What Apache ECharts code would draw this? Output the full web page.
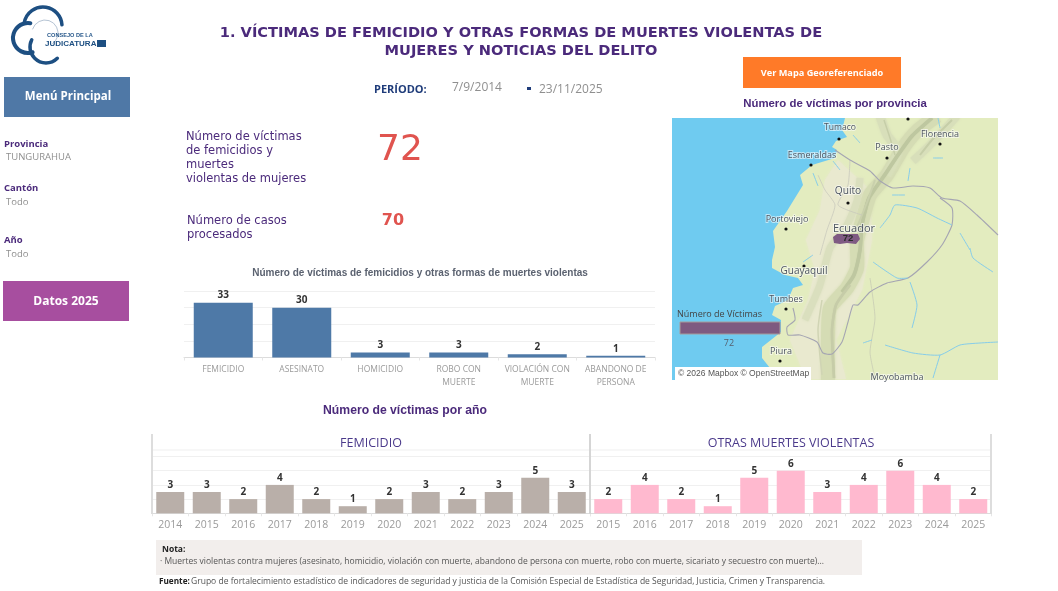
<!DOCTYPE html>
<html>
<head>
<meta charset="utf-8">
<title>Víctimas de femicidio</title>
<script src="https://cdn.jsdelivr.net/npm/echarts@6/dist/echarts.min.js"></script>
<style>
  html, body { margin: 0; padding: 0; background: #fff; }
  #main { width: 1058px; height: 591px; }
</style>
</head>
<body>
<div id="main"></div>
<script>
// datos
const tipo_names = ["FEMICIDIO", "ASESINATO", "HOMICIDIO", "ROBO CON\nMUERTE", "VIOLACIÓN CON\nMUERTE", "ABANDONO DE\nPERSONA"];
const tipo_values = [33, 30, 3, 3, 2, 1];
const femicidio_years = ["2014", "2015", "2016", "2017", "2018", "2019", "2020", "2021", "2022", "2023", "2024", "2025"];
const femicidio_values = [3, 3, 2, 4, 2, 1, 2, 3, 2, 3, 5, 3];
const otras_years = ["2015", "2016", "2017", "2018", "2019", "2020", "2021", "2022", "2023", "2024", "2025"];
const otras_values = [2, 4, 2, 1, 5, 6, 3, 4, 6, 4, 2];

const PURPLE = "#4b2a7b";
const GREY = "#8f8f8f";
const SANS = "'DejaVu Sans'";
const ARIAL = "'Liberation Sans'";
const BOOK = "'Open Sans'";

let graphics = [];
const txt = (text, x, y, font, fill, align, halo) => {
  graphics.push({
    type: "text",
    z: 20,
    x: x,
    y: y,
    style: {
      text: text,
      font: font,
      fill: fill,
      align: align || "left",
      verticalAlign: "middle",
      stroke: halo || null,
      lineWidth: halo ? 2 : 0,
    },
  });
};
const box = (x, y, w, h, fill, stroke, z) => {
  graphics.push({
    type: "rect",
    z: z || 10,
    shape: { x: x, y: y, width: w, height: h },
    style: { fill: fill, stroke: stroke || null, lineWidth: stroke ? 1 : 0 },
  });
};
const vline = (x, y1, y2, color) => {
  graphics.push({
    type: "line",
    z: 10,
    shape: { x1: x, y1: y1, x2: x, y2: y2 },
    style: { stroke: color, lineWidth: 2 },
  });
};

// cabecera
txt("1. VÍCTIMAS DE FEMICIDIO Y OTRAS FORMAS DE MUERTES VIOLENTAS DE", 521, 33, "bold 14.6px " + SANS, PURPLE, "center");
txt("MUJERES Y NOTICIAS DEL DELITO", 521, 51, "bold 14.6px " + SANS, PURPLE, "center");
txt("PERÍODO:", 374, 90, "bold 11px " + BOOK, "#1f3c7a");
txt("7/9/2014", 452, 88, "12px " + BOOK, GREY);
box(527, 87, 4, 3, "#1f3c7a");
txt("23/11/2025", 539, 90, "12px " + BOOK, GREY);

// menu lateral
box(4, 77, 126, 40, "#4f78a6");
txt("Menú Principal", 68, 97, "bold 11.5px " + BOOK, "#fff", "center");
txt("Provincia", 4, 144, "bold 9.5px " + BOOK, PURPLE);
txt("TUNGURAHUA", 6, 157, "9.5px " + BOOK, GREY);
txt("Cantón", 4, 188, "bold 9.5px " + BOOK, PURPLE);
txt("Todo", 6, 202, "9.5px " + BOOK, GREY);
txt("Año", 4, 240, "bold 9.5px " + BOOK, PURPLE);
txt("Todo", 6, 254, "9.5px " + BOOK, GREY);
box(3, 281, 126, 40, "#a74e9f");
txt("Datos 2025", 66, 302, "bold 12px " + BOOK, "#fff", "center");

// logo
const arcLogo = (cx, cy, r, a1, a2, w, color) => {
  graphics.push({
    type: "arc",
    z: 12,
    shape: { cx: cx, cy: cy, r: r, startAngle: a1, endAngle: a2 },
    style: { stroke: color || "#1d4f82", lineWidth: w, fill: null, lineCap: "round" },
  });
};
arcLogo(45, 33, 13, Math.PI * 1.1, Math.PI * 2.3, 1, "#b6c4d4");
arcLogo(43, 26, 19, Math.PI * 1.05, Math.PI * 1.98, 3.5);
arcLogo(28, 38, 15, Math.PI * 0.4, Math.PI * 1.55, 4);
arcLogo(46, 47, 16, Math.PI * 0.25, Math.PI * 1.15, 3.5);
txt("CONSEJO DE LA", 47, 35, "bold 5.6px " + ARIAL, "#2a5a8c");
txt("JUDICATURA", 45, 44, "bold 8px " + ARIAL, "#1d4f82");
box(97, 40, 9, 7, "#1d4f82");

// indicadores
["Número de víctimas", "de femicidios y", "muertes", "violentas de mujeres"].forEach((t, i) => {
  txt(t, 186, 137.5 + i * 14, "11.5px " + SANS, PURPLE);
});
txt("72", 400, 151, "36px " + SANS, "#e0544f", "center");
txt("Número de casos", 187, 221.5, "11.5px " + SANS, PURPLE);
txt("procesados", 187, 235.5, "11.5px " + SANS, PURPLE);
txt("70", 393, 221, "bold 16px " + SANS, "#e0544f", "center");

// titulos de graficos
txt("Número de víctimas de femicidios y otras formas de muertes violentas", 420, 273, "bold 10px " + ARIAL, "#5b6270", "center");
txt("Número de víctimas por año", 405, 411, "bold 12.2px " + ARIAL, PURPLE, "center");
txt("Número de víctimas por provincia", 835, 104, "bold 11.4px " + ARIAL, PURPLE, "center");
txt("FEMICIDIO", 371, 443, "12.5px " + BOOK, "#4b3a8b", "center");
txt("OTRAS MUERTES VIOLENTAS", 791, 443, "12.5px " + BOOK, "#4b3a8b", "center");
vline(152, 434, 514, "#dddddd");
vline(590, 434, 514, "#d5d5d5");
vline(991, 434, 514, "#dddddd");
graphics.push({
  type: "line",
  z: 5,
  shape: { x1: 152, y1: 450, x2: 991, y2: 450 },
  style: { stroke: "#efefef", lineWidth: 1 },
});

// boton naranja
box(743, 57, 158, 31, "#ff7a28");
txt("Ver Mapa Georeferenciado", 822, 73, "bold 9.2px " + BOOK, "#fff", "center");

// mapa de fondo (ilustrativo)
const poly = (pts, fill, blur, z) => {
  graphics.push({
    type: "polygon",
    z: z || 11,
    shape: { points: pts },
    style: { fill: fill, shadowBlur: blur || 0, shadowColor: fill },
  });
};
const pline = (pts, color, w, blur) => {
  graphics.push({
    type: "polyline",
    z: 12,
    shape: { points: pts, smooth: 0.2 },
    style: { stroke: color, lineWidth: w, fill: null, shadowBlur: blur || 0, shadowColor: color, lineCap: "butt", lineJoin: "round" },
  });
};
box(672, 118, 326, 262, "#6fcbf0");
poly([[845, 118], [842, 130], [847, 137], [836, 141], [832, 147], [837, 150], [835, 158], [812, 165], [800, 175], [803, 185], [787, 211], [773, 231], [775, 247], [772, 260], [772, 268], [785, 275], [798, 278], [803, 285], [793, 288], [788, 300], [775, 306], [772, 315], [781, 320], [781, 332], [762, 347], [762, 358], [770, 368], [775, 380], [998, 380], [998, 118]], "#e3ecbf");
poly([[838, 160], [870, 190], [872, 240], [862, 290], [836, 340], [846, 379], [806, 379], [790, 340], [808, 300], [815, 270], [806, 240], [820, 210], [825, 180]], "#e9e9cf", 3);
// cordilleras
pline([[937, 116], [917, 131], [903, 148], [887, 175], [870, 195], [863, 218], [857, 241], [857, 268], [847, 288], [830, 308], [828, 338], [828, 382]], "#d5dcb4", 14, 3);
pline([[880, 116], [887, 135], [898, 151], [887, 175]], "#d8dfba", 9, 3);
pline([[957, 116], [930, 145], [913, 161]], "#d8dfba", 8, 3);
pline([[860, 178], [857, 201], [847, 225], [830, 248], [820, 285], [805, 320]], "#dadfbe", 7, 3);
pline([[932, 118], [912, 136], [898, 155], [884, 176], [869, 198], [862, 225], [860, 250], [854, 275], [842, 292]], "#bec7a0", 3.5, 1);
pline([[884, 120], [890, 138], [895, 155]], "#c6cea8", 1.5);
pline([[952, 120], [932, 140], [920, 155]], "#c6cea8", 2);
pline([[875, 180], [866, 205], [855, 232]], "#c9d0ac", 2);
pline([[850, 285], [836, 305], [832, 330], [834, 378]], "#c6cca8", 2.5, 1);
pline([[822, 300], [818, 330], [822, 375]], "#d0d4b4", 1.5);
// limites
pline([[818, 175], [825, 190], [835, 205], [827, 230], [820, 255]], "#c9c9bd", 0.8);
pline([[850, 160], [848, 185], [838, 205], [862, 215]], "#c9c9bd", 0.8);
pline([[870, 278], [875, 318], [870, 352], [875, 378]], "#c8cbb4", 0.8);
pline([[835, 150], [850, 160], [870, 171], [880, 181], [893, 188], [913, 186], [930, 188], [942, 198], [960, 201], [977, 215], [998, 235]], "#a5a5b2", 1.1);
pline([[940, 198], [952, 208], [952, 225], [942, 245], [927, 262], [908, 278], [887, 283], [870, 292], [858, 305], [853, 305], [848, 322], [842, 342], [832, 354], [823, 353], [817, 342], [800, 335], [788, 335], [787, 327], [795, 320], [793, 308]], "#a5a5b2", 1.1);
// rios
[
  [[885, 345], [913, 353], [940, 355], [960, 345], [980, 343], [998, 342]],
  [[940, 355], [933, 378]],
  [[910, 282], [917, 305], [912, 328]],
  [[873, 262], [897, 278], [908, 278]],
  [[970, 248], [973, 258], [993, 272]],
  [[863, 343], [872, 340]],
  [[803, 262], [813, 255]],
  [[880, 228], [890, 215], [895, 205], [917, 208], [937, 218], [952, 225]],
  [[910, 168], [908, 181]],
  [[933, 158], [943, 158]],
  [[892, 195], [905, 195]],
  [[960, 233], [970, 250]],
  [[938, 118], [940, 128]],
  [[853, 135], [860, 143]],
  [[833, 161], [840, 170]],
  [[813, 173], [818, 186]],
].forEach((r) => pline(r, "#86cdea", 1));
// provincia
poly([[833, 237], [837, 234], [858, 234], [860, 239], [856, 244], [847, 243], [840, 244], [834, 243]], "#7f5a83", 0, 13);
// tapa lo que sale del mapa
box(672, 108, 326, 10, "#ffffff", null, 14);
box(672, 380, 326, 14, "#ffffff", null, 14);

const cityDot = (x, y) => {
  graphics.push({ type: "circle", z: 15, shape: { cx: x, cy: y, r: 1.6 }, style: { fill: "#111" } });
};
const cityName = (name, x, y, size) => {
  txt(name, x, y, size + "px " + BOOK, "#4d5560", "center", "rgba(255,255,255,0.55)");
};
[[908, 119], [839, 139], [940, 144], [887, 158], [811, 165], [848, 203], [786, 229], [804, 266], [786, 309], [780, 361]].forEach((d) => cityDot(d[0], d[1]));
cityName("Tumaco", 840, 128, 8.6);
cityName("Florencia", 940, 134, 9);
cityName("Pasto", 887, 147, 9);
cityName("Esmeraldas", 812, 155, 9);
cityName("Quito", 848, 191, 10.2);
cityName("Portoviejo", 787, 219, 9);
cityName("Ecuador", 854, 229, 11);
cityName("Guayaquil", 804, 271, 10);
cityName("Tumbes", 786, 299, 9);
cityName("Piura", 781, 351, 9);
cityName("Moyobamba", 897, 377, 9);
txt("72", 848, 238.5, "bold 9.5px " + ARIAL, "#2b2b2b", "center");

// leyenda del mapa
txt("Número de Víctimas", 677, 314, "9px " + BOOK, "#444");
box(680, 322, 100, 12, "#7e5a80", "#a79a9a", 15);
txt("72", 729, 343, "9px " + BOOK, "#56606e", "center");
box(675, 367, 136, 13, "#ffffff", null, 15);
txt("© 2026 Mapbox © OpenStreetMap", 678, 373.5, "8.5px " + ARIAL, "#555");

// notas
box(156, 540, 706, 35, "#f2eeec");
txt("Nota:", 162, 550, "bold 8.5px " + BOOK, "#222");
txt("· Muertes violentas contra mujeres (asesinato, homicidio, violación con muerte, abandono de persona con muerte, robo con muerte, sicariato y secuestro con muerte)...", 160, 562, "8.5px " + BOOK, "#555");
txt("Fuente:", 159, 582, "bold 8.2px " + BOOK, "#222");
txt("Grupo de fortalecimiento estadístico de indicadores de seguridad y justicia de la Comisión Especial de Estadística de Seguridad, Justicia, Crimen y Transparencia.", 191, 582, "8.53px " + BOOK, "#555");

// ejes y series
const makeGrid = (left, width, top, height) => ({ left: left, width: width, top: top, height: height, containLabel: false });
const makeX = (idx, data, size, margin, lineHeight) => ({
  type: "category",
  gridIndex: idx,
  data: data,
  axisLine: { lineStyle: { color: "#dcdcdc", width: 1 } },
  axisTick: { show: true, length: 3, lineStyle: { color: "#e6e6e6" } },
  axisLabel: { color: "#9a9a9a", fontFamily: "Open Sans", fontSize: size, margin: margin, interval: 0, lineHeight: lineHeight },
});
const makeY = (idx, max, interval) => ({
  type: "value",
  gridIndex: idx,
  min: 0,
  max: max,
  interval: interval,
  axisLabel: { show: false },
  axisLine: { show: false },
  axisTick: { show: false },
  splitLine: { lineStyle: { color: "#f0f0f0", width: 1 } },
});
const makeBar = (idx, values, color, width) => ({
  type: "bar",
  xAxisIndex: idx,
  yAxisIndex: idx,
  data: values,
  barWidth: width,
  itemStyle: { color: color },
  label: {
    show: true,
    position: "top",
    distance: 2,
    color: "#333",
    fontFamily: "Open Sans",
    fontWeight: "bold",
    fontSize: 10,
  },
});

const option = {
  animation: false,
  backgroundColor: "#fff",
  grid: [
    makeGrid(184, 471, 291, 66.5),
    makeGrid(152, 438, 456.5, 56.8),
    makeGrid(590, 401.5, 456.5, 56.8),
  ],
  xAxis: [
    makeX(0, tipo_names, 8.5, 6, 12.5),
    makeX(1, femicidio_years, 10.5, 5, 14),
    makeX(2, otras_years, 10.5, 5, 14),
  ],
  yAxis: [makeY(0, 40, 10), makeY(1, 8, 2), makeY(2, 8, 2)],
  series: [
    makeBar(0, tipo_values, "#4e79a7", 59),
    makeBar(1, femicidio_values, "#b9afa9", 28),
    makeBar(2, otras_values, "#ffb9cf", 28),
  ],
  graphic: graphics,
};

let Mychart = echarts.init(document.getElementById("main"));
Mychart.setOption(option);
</script>
</body>
</html>
